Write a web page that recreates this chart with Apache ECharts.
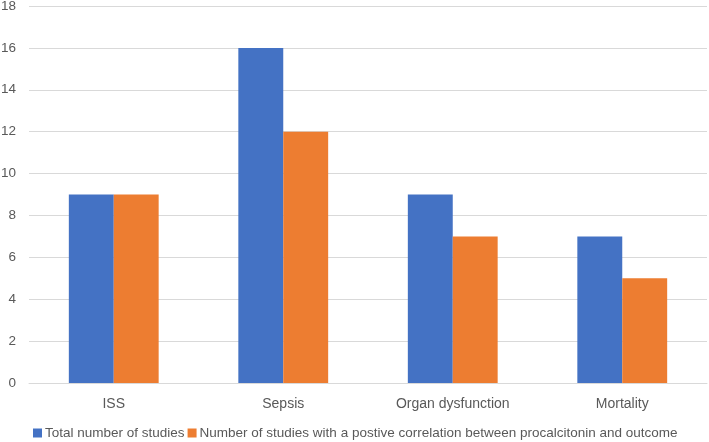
<!DOCTYPE html>
<html><head><meta charset="utf-8">
<script src="https://cdn.jsdelivr.net/npm/echarts@6/dist/echarts.min.js"></script>
<style>html,body{margin:0;padding:0;background:#fff}#c{width:709px;height:442px}</style>
</head><body><div id="c"></div>
<script>
const categories = ['ISS', 'Sepsis', 'Organ dysfunction', 'Mortality'];
const seriesNames = ['Total number of studies', 'Number of studies with a postive correlation between procalcitonin and outcome'];
const totalStudies = [9, 16, 9, 7];
const positiveStudies = [9, 12, 7, 5];
const yTicks = [0, 2, 4, 6, 8, 10, 12, 14, 16, 18];

const chart = echarts.init(document.getElementById('c'));
const font = 'Liberation Sans, Arial, sans-serif';
chart.setOption({
  animation: false,
  textStyle: { fontFamily: font },
  grid: { left: 29, right: 2, top: 6, bottom: 59, containLabel: false, outerBoundsMode: 'none' },
  legend: {
    left: 33, top: 426, padding: 0, itemWidth: 9, itemHeight: 9, itemGap: 3,
    icon: 'rect',
    textStyle: { color: '#595959', fontSize: 13.5, padding: [0, 0, 0, -2] },
    data: seriesNames
  },
  xAxis: {
    type: 'category', data: categories,
    axisLine: { lineStyle: { color: '#d9d9d9' } },
    axisTick: { show: false },
    axisLabel: { color: '#595959', fontSize: 14, margin: 14 }
  },
  yAxis: {
    type: 'value', min: yTicks[0], max: yTicks[yTicks.length - 1], interval: 2,
    axisLine: { show: false }, axisTick: { show: false },
    axisLabel: { color: '#595959', fontSize: 13.5, margin: 13 },
    splitLine: { lineStyle: { color: '#d9d9d9' } }
  },
  series: [
    { name: seriesNames[0], type: 'bar', data: totalStudies, barGap: '0%', barCategoryGap: '47%', itemStyle: { color: '#4472C4' } },
    { name: seriesNames[1], type: 'bar', data: positiveStudies, itemStyle: { color: '#ED7D31' } }
  ]
});
</script></body></html>
